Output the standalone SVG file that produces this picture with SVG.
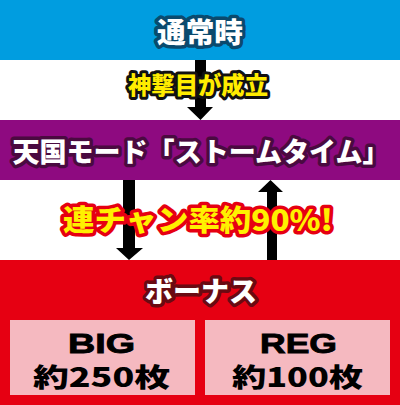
<svg xmlns="http://www.w3.org/2000/svg" width="400" height="405" viewBox="0 0 400 405">
<style>
.t{font-family:"Noto Sans CJK JP","Noto Sans",sans-serif;font-weight:900;text-anchor:middle;paint-order:stroke;stroke-linejoin:round}
.box{font-family:"Noto Sans CJK JP","Liberation Sans",sans-serif;font-weight:900;text-anchor:middle;fill:#000}
.lat{font-family:"Liberation Sans",Arial,sans-serif;font-weight:700;text-anchor:middle;fill:#000;stroke:#000;stroke-width:0.9}
</style>
<rect x="0" y="0" width="400" height="405" fill="#fff"/>
<g id="normal">
<rect x="0" y="0" width="400" height="60" fill="#009de0"/>
<text class="t" x="200" y="43" font-size="28" fill="#fff" stroke="#0a4a6e" stroke-width="7" textLength="86" lengthAdjust="spacingAndGlyphs">通常時</text>
</g>
<g id="heaven">
<rect x="0" y="120" width="400" height="60" fill="#8e0a80"/>
<text class="t" x="201" y="162" font-size="27" fill="#fff" stroke="#4a0a40" stroke-width="7" textLength="377" lengthAdjust="spacingAndGlyphs">天国モード「ストームタイム」</text>
</g>
<g id="bonus">
<rect x="0" y="260" width="400" height="145" fill="#e60012"/>
<text class="t" x="201" y="302" font-size="28" fill="#fff" stroke="#6a0a12" stroke-width="7" textLength="112" lengthAdjust="spacingAndGlyphs">ボーナス</text>
</g>
<g id="big">
<rect x="10" y="320" width="185" height="75" fill="#f5b9c0"/>
<text class="lat" x="101.5" y="353" font-size="28" textLength="67" lengthAdjust="spacingAndGlyphs">BIG</text>
<text class="box" x="101.5" y="387" font-size="26" textLength="137" lengthAdjust="spacingAndGlyphs">約250枚</text>
</g>
<g id="reg">
<rect x="205" y="320" width="185" height="75" fill="#f5b9c0"/>
<text class="lat" x="298.5" y="353" font-size="28" textLength="77" lengthAdjust="spacingAndGlyphs">REG</text>
<text class="box" x="297.5" y="387" font-size="26" textLength="131" lengthAdjust="spacingAndGlyphs">約100枚</text>
</g>
<g id="connectors" fill="#000">
<polygon points="195,60 206,60 206,107 213,107 200.5,120 187,107 195,107"/>
<polygon points="123,180 135,180 135,248 143,248 129,260 116,248 123,248"/>
<polygon points="267,260 277,260 277,192 283,192 270.5,180 258,192 267,192"/>
</g>
<g id="labels">
<text class="t" x="198" y="94" font-size="24" fill="#ffec00" stroke="#111" stroke-width="6" textLength="140" lengthAdjust="spacingAndGlyphs">神撃目が成立</text>
<text class="t" x="198" y="231" font-size="29" fill="#fff100" stroke="#e60012" stroke-width="7" textLength="270" lengthAdjust="spacingAndGlyphs">連チャン率約90%!</text>
</g>
</svg>
